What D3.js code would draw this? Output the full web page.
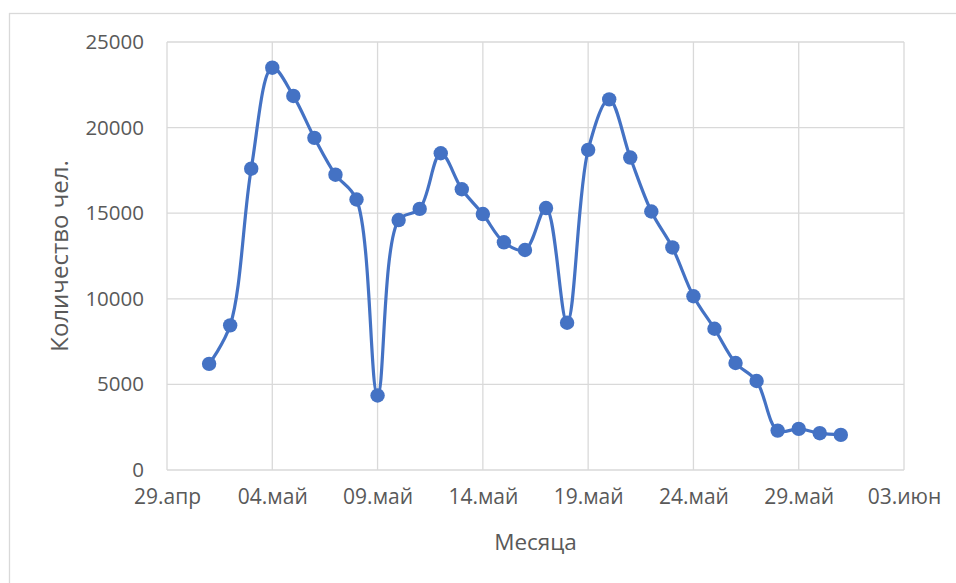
<!DOCTYPE html>
<html>
<head>
<meta charset="utf-8">
<script src="https://cdn.jsdelivr.net/npm/d3@7"></script>
<style>
  html, body { margin: 0; padding: 0; background: #fff; }
  svg { display: block; }
  text { font-family: "Open Sans", "Segoe UI", sans-serif; fill: #595959; }
</style>
</head>
<body>
<svg id="chart" width="956" height="583"></svg>
<script>
// Daily counts, 1–31 May
const days = d3.range(1, 32).map(d => new Date(2020, 4, d));
const counts = [
  6200, 8450, 17600, 23500, 21850, 19400, 17250, 15800, 4350, 14600,
  15250, 18500, 16400, 14950, 13300, 12850, 15300, 8600, 18700, 21650,
  18250, 15100, 13000, 10150, 8250, 6250, 5200, 2300, 2400, 2150, 2050
];
const yTicks = [0, 5000, 10000, 15000, 20000, 25000];
const xTickDates = d3.range(0, 8).map(i => new Date(2020, 3, 29 + i * 5));
const monthNames = ["янв","фев","мар","апр","май","июн","июл","авг","сен","окт","ноя","дек"];
const yTitle = "Количество чел.";
const xTitle = "Месяца";

const svg = d3.select("#chart");
const m = { left: 167, top: 42, right: 904, bottom: 470 };

const x = d3.scaleTime()
  .domain([new Date(2020, 3, 29), new Date(2020, 5, 3)])
  .range([m.left, m.right]);
const y = d3.scaleLinear().domain([0, 25000]).range([m.bottom, m.top]);

// chart frame (extends past the visible area on the right and bottom)
svg.append("rect")
  .attr("x", 9.5).attr("y", 13.5)
  .attr("width", 1000).attr("height", 1000)
  .attr("fill", "none").attr("stroke", "#d9d9d9").attr("stroke-width", 1.3);

// gridlines
const grid = svg.append("g").attr("stroke", "#d9d9d9").attr("stroke-width", 1.3);
grid.selectAll(".hy").data(yTicks).join("line")
  .attr("x1", m.left).attr("x2", m.right)
  .attr("y1", d => y(d)).attr("y2", d => y(d));
grid.selectAll(".vx").data(xTickDates).join("line")
  .attr("y1", m.top).attr("y2", m.bottom)
  .attr("x1", d => x(d)).attr("x2", d => x(d));

// y axis labels
const yAxis = svg.append("g")
  .attr("transform", `translate(${m.left - 23},0)`)
  .call(d3.axisLeft(y).tickValues(yTicks).tickSize(0).tickPadding(0).tickFormat(d3.format("d")));
yAxis.select(".domain").remove();
yAxis.selectAll("text").attr("font-size", 20.5).attr("fill", "#595959")
  .style("font-family", "'Open Sans', sans-serif");

// x axis labels
const fmt = d => String(d.getDate()).padStart(2, "0") + "." + monthNames[d.getMonth()];
const xAxis = svg.append("g")
  .attr("transform", `translate(0,${m.bottom + 19})`)
  .call(d3.axisBottom(x).tickValues(xTickDates).tickSize(0).tickPadding(0).tickFormat(fmt));
xAxis.select(".domain").remove();
xAxis.selectAll("text").attr("font-size", 21).attr("fill", "#595959")
  .style("font-family", "'Open Sans', sans-serif");

// axis titles
svg.append("text")
  .attr("x", (m.left + m.right) / 2).attr("y", 550)
  .attr("text-anchor", "middle").attr("font-size", 22.5)
  .text(xTitle);
svg.append("text")
  .attr("transform", `translate(68,${(m.top + m.bottom) / 2}) rotate(-90)`)
  .attr("text-anchor", "middle").attr("font-size", 24)
  .text(yTitle);

// smoothed series line
const pts = days.map((d, i) => [d, counts[i]]);
const line = d3.line()
  .x(d => x(d[0])).y(d => y(d[1]))
  .curve(d3.curveCatmullRom.alpha(0.5));
svg.append("path").datum(pts)
  .attr("d", line)
  .attr("fill", "none").attr("stroke", "#4472C4").attr("stroke-width", 3.2);

// markers
svg.selectAll(".pt").data(pts).join("circle")
  .attr("cx", d => x(d[0])).attr("cy", d => y(d[1]))
  .attr("r", 7.2).attr("fill", "#4472C4");
</script>
</body>
</html>
